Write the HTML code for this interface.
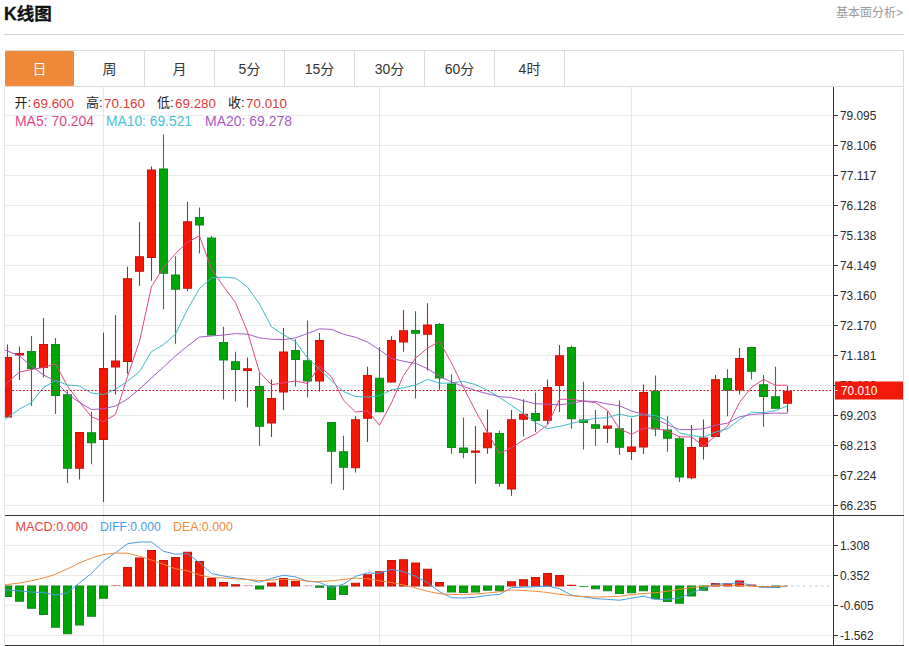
<!DOCTYPE html>
<html lang="zh-CN">
<head>
<meta charset="utf-8">
<title>K线图</title>
<style>
html,body{margin:0;padding:0;background:#fff;}
body{width:909px;height:646px;position:relative;overflow:hidden;font-family:"Liberation Sans","Noto Sans CJK SC",sans-serif;}
.title{-webkit-text-stroke:0.3px #111;position:absolute;left:4px;top:0.5px;font-size:17.6px;font-weight:bold;color:#111;line-height:26px;}
.more{position:absolute;right:6px;top:5px;font-size:12px;color:#999;line-height:17px;}
.hr{position:absolute;left:4px;top:34px;width:900px;height:1px;background:#cfcfcf;}
.tabs{position:absolute;left:5px;top:50px;width:898px;height:36px;border-top:1px solid #dcdcdc;box-sizing:border-box;}
.tab{position:absolute;top:0;width:70px;height:35px;box-sizing:border-box;border-right:1px solid #dcdcdc;text-align:center;font-size:14px;line-height:37px;color:#333;}
.tab.on{background:#f0883a;color:#fff;border-right:none;border-radius:1.5px;width:69px;}
</style>
</head>
<body>
<div class="title">K线图</div>
<div class="more">基本面分析&gt;</div>
<div class="hr"></div>
<div class="tabs">
<div class="tab on" style="left:0">日</div>
<div class="tab" style="left:70px">周</div>
<div class="tab" style="left:140px">月</div>
<div class="tab" style="left:210px">5分</div>
<div class="tab" style="left:280px">15分</div>
<div class="tab" style="left:350px">30分</div>
<div class="tab" style="left:420px">60分</div>
<div class="tab" style="left:490px">4时</div>
</div>
<svg width="909" height="646" viewBox="0 0 909 646" style="position:absolute;left:0;top:0">
<defs><clipPath id="cp"><rect x="5" y="87" width="828.5" height="559"/></clipPath></defs>
<g stroke="#e9e9e9" stroke-width="1" shape-rendering="crispEdges">
<line x1="5" y1="115.5" x2="833" y2="115.5"/>
<line x1="5" y1="145.5" x2="833" y2="145.5"/>
<line x1="5" y1="175.5" x2="833" y2="175.5"/>
<line x1="5" y1="205.5" x2="833" y2="205.5"/>
<line x1="5" y1="235.5" x2="833" y2="235.5"/>
<line x1="5" y1="265.5" x2="833" y2="265.5"/>
<line x1="5" y1="295.5" x2="833" y2="295.5"/>
<line x1="5" y1="325.5" x2="833" y2="325.5"/>
<line x1="5" y1="355.5" x2="833" y2="355.5"/>
<line x1="5" y1="385.5" x2="833" y2="385.5"/>
<line x1="5" y1="415.5" x2="833" y2="415.5"/>
<line x1="5" y1="445.5" x2="833" y2="445.5"/>
<line x1="5" y1="475.5" x2="833" y2="475.5"/>
<line x1="5" y1="505.5" x2="833" y2="505.5"/>
<line x1="5" y1="545.5" x2="833" y2="545.5"/>
<line x1="5" y1="575.5" x2="833" y2="575.5"/>
<line x1="5" y1="605.5" x2="833" y2="605.5"/>
<line x1="5" y1="635.5" x2="833" y2="635.5"/>
</g>
<g stroke="#e4e9ef" stroke-width="1" shape-rendering="crispEdges">
<line x1="103.5" y1="87" x2="103.5" y2="645"/>
<line x1="379.5" y1="87" x2="379.5" y2="645"/>
<line x1="631.5" y1="87" x2="631.5" y2="645"/>
</g>
<g stroke="#dcdcdc" stroke-width="1" shape-rendering="crispEdges">
<line x1="4.5" y1="86" x2="4.5" y2="646" stroke="#e1e6ec"/>
<line x1="903.5" y1="50" x2="903.5" y2="646"/>
<line x1="4" y1="86.5" x2="904" y2="86.5"/>
</g>
<line x1="5" y1="586" x2="833" y2="586" stroke="#aecbe3" stroke-width="1" stroke-dasharray="2.5,3.5"/>
<g clip-path="url(#cp)">
<line x1="7.5" y1="344.50" x2="7.5" y2="417.50" stroke="#a82a20" stroke-width="1.1"/>
<rect x="3.5" y="357.50" width="8" height="59.50" fill="#f51605" stroke="#c8140a" stroke-width="1"/>
<line x1="19.5" y1="346.50" x2="19.5" y2="380.00" stroke="#a82a20" stroke-width="1.1"/>
<rect x="15.5" y="353.50" width="8" height="1.50" fill="#f51605" stroke="#c8140a" stroke-width="1"/>
<line x1="31.5" y1="336.00" x2="31.5" y2="406.00" stroke="#23822d" stroke-width="1.1"/>
<rect x="27.5" y="351.50" width="8" height="17.00" fill="#00a605" stroke="#0c8a1c" stroke-width="1"/>
<line x1="43.5" y1="318.00" x2="43.5" y2="377.50" stroke="#a82a20" stroke-width="1.1"/>
<rect x="39.5" y="344.50" width="8" height="23.00" fill="#f51605" stroke="#c8140a" stroke-width="1"/>
<line x1="55.5" y1="338.00" x2="55.5" y2="414.00" stroke="#23822d" stroke-width="1.1"/>
<rect x="51.5" y="344.50" width="8" height="51.00" fill="#00a605" stroke="#0c8a1c" stroke-width="1"/>
<line x1="67.5" y1="391.25" x2="67.5" y2="483.00" stroke="#23822d" stroke-width="1.1"/>
<rect x="63.5" y="394.75" width="8" height="73.50" fill="#00a605" stroke="#0c8a1c" stroke-width="1"/>
<line x1="79.5" y1="432.00" x2="79.5" y2="479.50" stroke="#a82a20" stroke-width="1.1"/>
<rect x="75.5" y="432.50" width="8" height="35.75" fill="#f51605" stroke="#c8140a" stroke-width="1"/>
<line x1="91.5" y1="411.75" x2="91.5" y2="464.25" stroke="#23822d" stroke-width="1.1"/>
<rect x="87.5" y="432.75" width="8" height="10.00" fill="#00a605" stroke="#0c8a1c" stroke-width="1"/>
<line x1="103.5" y1="332.50" x2="103.5" y2="502.00" stroke="#a82a20" stroke-width="1.1"/>
<rect x="99.5" y="368.50" width="8" height="71.00" fill="#f51605" stroke="#c8140a" stroke-width="1"/>
<line x1="115.5" y1="315.00" x2="115.5" y2="394.50" stroke="#a82a20" stroke-width="1.1"/>
<rect x="111.5" y="361.00" width="8" height="6.00" fill="#f51605" stroke="#c8140a" stroke-width="1"/>
<line x1="127.5" y1="266.75" x2="127.5" y2="373.75" stroke="#a82a20" stroke-width="1.1"/>
<rect x="123.5" y="278.75" width="8" height="82.75" fill="#f51605" stroke="#c8140a" stroke-width="1"/>
<line x1="139.5" y1="222.00" x2="139.5" y2="285.75" stroke="#a82a20" stroke-width="1.1"/>
<rect x="135.5" y="256.75" width="8" height="14.50" fill="#f51605" stroke="#c8140a" stroke-width="1"/>
<line x1="151.5" y1="166.50" x2="151.5" y2="280.75" stroke="#a82a20" stroke-width="1.1"/>
<rect x="147.5" y="170.00" width="8" height="87.50" fill="#f51605" stroke="#c8140a" stroke-width="1"/>
<line x1="163.5" y1="134.50" x2="163.5" y2="309.25" stroke="#23822d" stroke-width="1.1"/>
<rect x="159.5" y="169.00" width="8" height="104.25" fill="#00a605" stroke="#0c8a1c" stroke-width="1"/>
<line x1="175.5" y1="256.25" x2="175.5" y2="343.75" stroke="#23822d" stroke-width="1.1"/>
<rect x="171.5" y="275.00" width="8" height="14.25" fill="#00a605" stroke="#0c8a1c" stroke-width="1"/>
<line x1="187.5" y1="201.75" x2="187.5" y2="291.25" stroke="#a82a20" stroke-width="1.1"/>
<rect x="183.5" y="221.75" width="8" height="66.50" fill="#f51605" stroke="#c8140a" stroke-width="1"/>
<line x1="199.5" y1="207.50" x2="199.5" y2="253.50" stroke="#23822d" stroke-width="1.1"/>
<rect x="195.5" y="217.50" width="8" height="7.50" fill="#00a605" stroke="#0c8a1c" stroke-width="1"/>
<line x1="211.5" y1="236.00" x2="211.5" y2="335.50" stroke="#23822d" stroke-width="1.1"/>
<rect x="207.5" y="238.00" width="8" height="97.00" fill="#00a605" stroke="#0c8a1c" stroke-width="1"/>
<line x1="223.5" y1="326.75" x2="223.5" y2="399.50" stroke="#23822d" stroke-width="1.1"/>
<rect x="219.5" y="342.50" width="8" height="17.50" fill="#00a605" stroke="#0c8a1c" stroke-width="1"/>
<line x1="235.5" y1="351.75" x2="235.5" y2="401.25" stroke="#23822d" stroke-width="1.1"/>
<rect x="231.5" y="361.75" width="8" height="7.75" fill="#00a605" stroke="#0c8a1c" stroke-width="1"/>
<line x1="247.5" y1="357.50" x2="247.5" y2="407.50" stroke="#a82a20" stroke-width="1.1"/>
<rect x="243.5" y="368.75" width="8" height="1.75" fill="#f51605" stroke="#c8140a" stroke-width="1"/>
<line x1="259.5" y1="372.50" x2="259.5" y2="445.75" stroke="#23822d" stroke-width="1.1"/>
<rect x="255.5" y="386.50" width="8" height="39.75" fill="#00a605" stroke="#0c8a1c" stroke-width="1"/>
<line x1="271.5" y1="379.50" x2="271.5" y2="437.00" stroke="#a82a20" stroke-width="1.1"/>
<rect x="267.5" y="398.50" width="8" height="24.50" fill="#f51605" stroke="#c8140a" stroke-width="1"/>
<line x1="283.5" y1="328.00" x2="283.5" y2="410.00" stroke="#a82a20" stroke-width="1.1"/>
<rect x="279.5" y="352.00" width="8" height="40.00" fill="#f51605" stroke="#c8140a" stroke-width="1"/>
<line x1="295.5" y1="339.25" x2="295.5" y2="386.50" stroke="#23822d" stroke-width="1.1"/>
<rect x="291.5" y="350.50" width="8" height="9.00" fill="#00a605" stroke="#0c8a1c" stroke-width="1"/>
<line x1="307.5" y1="320.50" x2="307.5" y2="397.50" stroke="#23822d" stroke-width="1.1"/>
<rect x="303.5" y="360.75" width="8" height="20.25" fill="#00a605" stroke="#0c8a1c" stroke-width="1"/>
<line x1="319.5" y1="333.00" x2="319.5" y2="391.50" stroke="#a82a20" stroke-width="1.1"/>
<rect x="315.5" y="340.50" width="8" height="40.50" fill="#f51605" stroke="#c8140a" stroke-width="1"/>
<line x1="331.5" y1="422.00" x2="331.5" y2="483.75" stroke="#23822d" stroke-width="1.1"/>
<rect x="327.5" y="422.50" width="8" height="28.75" fill="#00a605" stroke="#0c8a1c" stroke-width="1"/>
<line x1="343.5" y1="435.75" x2="343.5" y2="490.00" stroke="#23822d" stroke-width="1.1"/>
<rect x="339.5" y="451.75" width="8" height="15.50" fill="#00a605" stroke="#0c8a1c" stroke-width="1"/>
<line x1="355.5" y1="416.25" x2="355.5" y2="472.50" stroke="#a82a20" stroke-width="1.1"/>
<rect x="351.5" y="419.75" width="8" height="48.00" fill="#f51605" stroke="#c8140a" stroke-width="1"/>
<line x1="367.5" y1="366.75" x2="367.5" y2="442.00" stroke="#a82a20" stroke-width="1.1"/>
<rect x="363.5" y="375.50" width="8" height="42.75" fill="#f51605" stroke="#c8140a" stroke-width="1"/>
<line x1="379.5" y1="347.00" x2="379.5" y2="412.25" stroke="#23822d" stroke-width="1.1"/>
<rect x="375.5" y="378.25" width="8" height="33.50" fill="#00a605" stroke="#0c8a1c" stroke-width="1"/>
<line x1="391.5" y1="336.25" x2="391.5" y2="382.50" stroke="#a82a20" stroke-width="1.1"/>
<rect x="387.5" y="340.50" width="8" height="41.50" fill="#f51605" stroke="#c8140a" stroke-width="1"/>
<line x1="403.5" y1="310.00" x2="403.5" y2="351.75" stroke="#a82a20" stroke-width="1.1"/>
<rect x="399.5" y="330.75" width="8" height="11.25" fill="#f51605" stroke="#c8140a" stroke-width="1"/>
<line x1="415.5" y1="311.25" x2="415.5" y2="398.50" stroke="#23822d" stroke-width="1.1"/>
<rect x="411.5" y="330.50" width="8" height="2.75" fill="#00a605" stroke="#0c8a1c" stroke-width="1"/>
<line x1="427.5" y1="303.25" x2="427.5" y2="370.50" stroke="#a82a20" stroke-width="1.1"/>
<rect x="423.5" y="325.00" width="8" height="9.25" fill="#f51605" stroke="#c8140a" stroke-width="1"/>
<line x1="439.5" y1="323.00" x2="439.5" y2="390.50" stroke="#23822d" stroke-width="1.1"/>
<rect x="435.5" y="324.50" width="8" height="53.50" fill="#00a605" stroke="#0c8a1c" stroke-width="1"/>
<line x1="451.5" y1="374.25" x2="451.5" y2="453.75" stroke="#23822d" stroke-width="1.1"/>
<rect x="447.5" y="384.00" width="8" height="63.50" fill="#00a605" stroke="#0c8a1c" stroke-width="1"/>
<line x1="463.5" y1="417.50" x2="463.5" y2="458.25" stroke="#23822d" stroke-width="1.1"/>
<rect x="459.5" y="448.00" width="8" height="4.50" fill="#00a605" stroke="#0c8a1c" stroke-width="1"/>
<line x1="475.5" y1="426.00" x2="475.5" y2="483.75" stroke="#a82a20" stroke-width="1.1"/>
<rect x="471.5" y="451.00" width="8" height="1.25" fill="#f51605" stroke="#c8140a" stroke-width="1"/>
<line x1="487.5" y1="409.50" x2="487.5" y2="453.75" stroke="#a82a20" stroke-width="1.1"/>
<rect x="483.5" y="433.00" width="8" height="14.75" fill="#f51605" stroke="#c8140a" stroke-width="1"/>
<line x1="499.5" y1="430.75" x2="499.5" y2="486.75" stroke="#23822d" stroke-width="1.1"/>
<rect x="495.5" y="433.50" width="8" height="49.75" fill="#00a605" stroke="#0c8a1c" stroke-width="1"/>
<line x1="511.5" y1="410.00" x2="511.5" y2="495.75" stroke="#a82a20" stroke-width="1.1"/>
<rect x="507.5" y="419.75" width="8" height="69.25" fill="#f51605" stroke="#c8140a" stroke-width="1"/>
<line x1="523.5" y1="399.25" x2="523.5" y2="436.50" stroke="#a82a20" stroke-width="1.1"/>
<rect x="519.5" y="414.25" width="8" height="5.00" fill="#f51605" stroke="#c8140a" stroke-width="1"/>
<line x1="535.5" y1="392.50" x2="535.5" y2="432.00" stroke="#23822d" stroke-width="1.1"/>
<rect x="531.5" y="413.50" width="8" height="7.00" fill="#00a605" stroke="#0c8a1c" stroke-width="1"/>
<line x1="547.5" y1="379.50" x2="547.5" y2="424.25" stroke="#a82a20" stroke-width="1.1"/>
<rect x="543.5" y="387.50" width="8" height="32.75" fill="#f51605" stroke="#c8140a" stroke-width="1"/>
<line x1="559.5" y1="345.00" x2="559.5" y2="412.00" stroke="#a82a20" stroke-width="1.1"/>
<rect x="555.5" y="355.75" width="8" height="29.75" fill="#f51605" stroke="#c8140a" stroke-width="1"/>
<line x1="571.5" y1="345.75" x2="571.5" y2="428.75" stroke="#23822d" stroke-width="1.1"/>
<rect x="567.5" y="347.50" width="8" height="71.25" fill="#00a605" stroke="#0c8a1c" stroke-width="1"/>
<line x1="583.5" y1="381.75" x2="583.5" y2="449.50" stroke="#23822d" stroke-width="1.1"/>
<rect x="579.5" y="420.00" width="8" height="2.50" fill="#00a605" stroke="#0c8a1c" stroke-width="1"/>
<line x1="595.5" y1="410.00" x2="595.5" y2="445.75" stroke="#23822d" stroke-width="1.1"/>
<rect x="591.5" y="424.75" width="8" height="3.50" fill="#00a605" stroke="#0c8a1c" stroke-width="1"/>
<line x1="607.5" y1="411.25" x2="607.5" y2="443.00" stroke="#a82a20" stroke-width="1.1"/>
<rect x="603.5" y="426.00" width="8" height="2.25" fill="#f51605" stroke="#c8140a" stroke-width="1"/>
<line x1="619.5" y1="400.50" x2="619.5" y2="455.00" stroke="#23822d" stroke-width="1.1"/>
<rect x="615.5" y="428.75" width="8" height="18.50" fill="#00a605" stroke="#0c8a1c" stroke-width="1"/>
<line x1="631.5" y1="418.25" x2="631.5" y2="460.00" stroke="#a82a20" stroke-width="1.1"/>
<rect x="627.5" y="447.00" width="8" height="4.50" fill="#f51605" stroke="#c8140a" stroke-width="1"/>
<line x1="643.5" y1="384.50" x2="643.5" y2="454.00" stroke="#a82a20" stroke-width="1.1"/>
<rect x="639.5" y="392.50" width="8" height="54.50" fill="#f51605" stroke="#c8140a" stroke-width="1"/>
<line x1="655.5" y1="375.50" x2="655.5" y2="436.25" stroke="#23822d" stroke-width="1.1"/>
<rect x="651.5" y="391.25" width="8" height="37.75" fill="#00a605" stroke="#0c8a1c" stroke-width="1"/>
<line x1="667.5" y1="416.25" x2="667.5" y2="451.75" stroke="#23822d" stroke-width="1.1"/>
<rect x="663.5" y="430.00" width="8" height="8.25" fill="#00a605" stroke="#0c8a1c" stroke-width="1"/>
<line x1="679.5" y1="436.50" x2="679.5" y2="482.00" stroke="#23822d" stroke-width="1.1"/>
<rect x="675.5" y="438.75" width="8" height="38.25" fill="#00a605" stroke="#0c8a1c" stroke-width="1"/>
<line x1="691.5" y1="425.00" x2="691.5" y2="479.25" stroke="#a82a20" stroke-width="1.1"/>
<rect x="687.5" y="447.50" width="8" height="30.25" fill="#f51605" stroke="#c8140a" stroke-width="1"/>
<line x1="703.5" y1="419.50" x2="703.5" y2="459.50" stroke="#a82a20" stroke-width="1.1"/>
<rect x="699.5" y="438.00" width="8" height="8.25" fill="#f51605" stroke="#c8140a" stroke-width="1"/>
<line x1="715.5" y1="375.00" x2="715.5" y2="437.00" stroke="#a82a20" stroke-width="1.1"/>
<rect x="711.5" y="379.75" width="8" height="56.75" fill="#f51605" stroke="#c8140a" stroke-width="1"/>
<line x1="727.5" y1="369.25" x2="727.5" y2="416.25" stroke="#23822d" stroke-width="1.1"/>
<rect x="723.5" y="378.50" width="8" height="11.75" fill="#00a605" stroke="#0c8a1c" stroke-width="1"/>
<line x1="739.5" y1="348.00" x2="739.5" y2="394.50" stroke="#a82a20" stroke-width="1.1"/>
<rect x="735.5" y="358.50" width="8" height="31.50" fill="#f51605" stroke="#c8140a" stroke-width="1"/>
<line x1="751.5" y1="347.00" x2="751.5" y2="379.50" stroke="#23822d" stroke-width="1.1"/>
<rect x="747.5" y="347.50" width="8" height="23.75" fill="#00a605" stroke="#0c8a1c" stroke-width="1"/>
<line x1="763.5" y1="375.00" x2="763.5" y2="426.75" stroke="#23822d" stroke-width="1.1"/>
<rect x="759.5" y="384.75" width="8" height="11.75" fill="#00a605" stroke="#0c8a1c" stroke-width="1"/>
<line x1="775.5" y1="366.75" x2="775.5" y2="409.00" stroke="#23822d" stroke-width="1.1"/>
<rect x="771.5" y="396.75" width="8" height="11.50" fill="#00a605" stroke="#0c8a1c" stroke-width="1"/>
<line x1="787.5" y1="386.25" x2="787.5" y2="412.50" stroke="#a82a20" stroke-width="1.1"/>
<rect x="783.5" y="391.25" width="8" height="12.00" fill="#f51605" stroke="#c8140a" stroke-width="1"/>
<polyline points="-4.5,393.00 7.5,382.50 19.5,372.00 31.5,369.50 43.5,367.50 55.5,363.80 67.5,386.15 79.5,401.95 91.5,416.80 103.5,421.60 115.5,414.50 127.5,376.40 139.5,341.25 151.5,286.50 163.5,267.65 175.5,253.50 187.5,242.10 199.5,235.95 211.5,269.15 223.5,286.50 235.5,302.55 247.5,331.95 259.5,372.20 271.5,384.70 283.5,382.90 295.5,380.90 307.5,383.55 319.5,366.20 331.5,376.95 343.5,400.20 355.5,412.05 367.5,410.75 379.5,425.20 391.5,402.85 403.5,375.35 415.5,358.25 427.5,348.15 439.5,341.40 451.5,363.00 463.5,387.55 475.5,410.90 487.5,432.50 499.5,453.55 511.5,447.80 523.5,439.95 535.5,434.05 547.5,424.95 559.5,399.25 571.5,399.25 583.5,401.10 595.5,402.65 607.5,410.35 619.5,428.85 631.5,434.30 643.5,428.10 655.5,428.25 667.5,430.90 679.5,436.85 691.5,436.95 703.5,446.05 715.5,436.00 727.5,426.40 739.5,402.50 751.5,387.45 763.5,379.35 775.5,385.25 787.5,385.20" fill="none" stroke="#e2468a" stroke-width="1.0" stroke-linejoin="round"/>
<polyline points="-4.5,426.00 7.5,417.50 19.5,409.00 31.5,402.50 43.5,387.50 55.5,380.50 67.5,385.00 79.5,386.00 91.5,393.00 103.5,394.50 115.5,389.15 127.5,381.27 139.5,371.60 151.5,351.65 163.5,344.62 175.5,334.00 187.5,309.25 199.5,288.60 211.5,277.82 223.5,277.07 235.5,278.02 247.5,287.02 259.5,304.07 271.5,326.93 283.5,334.70 295.5,341.73 307.5,357.75 319.5,369.20 331.5,380.82 343.5,391.55 355.5,396.48 367.5,397.15 379.5,395.70 391.5,389.90 403.5,387.77 415.5,385.15 427.5,379.45 439.5,383.30 451.5,382.93 463.5,381.45 475.5,384.57 487.5,390.32 499.5,397.48 511.5,405.40 523.5,413.75 535.5,422.48 547.5,428.73 559.5,426.40 571.5,423.52 583.5,420.52 595.5,418.35 607.5,417.65 619.5,414.05 631.5,416.77 643.5,414.60 655.5,415.45 667.5,420.62 679.5,432.85 691.5,435.62 703.5,437.07 715.5,432.12 727.5,428.65 739.5,419.68 751.5,412.20 763.5,412.70 775.5,410.62 787.5,405.91" fill="none" stroke="#3dbcc8" stroke-width="1.0" stroke-linejoin="round"/>
<polyline points="-4.5,346.00 7.5,351.00 19.5,356.00 31.5,366.00 43.5,375.00 55.5,381.00 67.5,394.00 79.5,402.50 91.5,409.50 103.5,408.75 115.5,406.00 127.5,399.00 139.5,389.00 151.5,378.00 163.5,367.00 175.5,356.00 187.5,346.00 199.5,337.00 211.5,336.00 223.5,335.00 235.5,333.59 247.5,334.15 259.5,337.84 271.5,339.29 283.5,339.66 295.5,337.86 307.5,333.50 319.5,328.90 331.5,329.32 343.5,334.31 355.5,337.25 367.5,342.09 379.5,349.89 391.5,358.41 403.5,361.24 415.5,363.44 427.5,368.60 439.5,376.25 451.5,381.88 463.5,386.50 475.5,390.52 487.5,393.74 499.5,396.59 511.5,397.65 523.5,400.76 535.5,403.81 547.5,404.09 559.5,404.85 571.5,403.23 583.5,400.99 595.5,401.46 607.5,403.99 619.5,405.76 631.5,411.09 643.5,414.18 655.5,418.96 667.5,424.68 679.5,429.62 691.5,429.57 703.5,428.80 715.5,425.24 727.5,423.15 739.5,416.86 751.5,414.49 763.5,413.65 775.5,413.04 787.5,413.29" fill="none" stroke="#a55cc4" stroke-width="1.0" stroke-linejoin="round"/>
<rect x="3.5" y="586.00" width="8" height="10.50" fill="#00a605" stroke="#0c8a1c" stroke-width="1"/>
<rect x="15.5" y="586.00" width="8" height="15.25" fill="#00a605" stroke="#0c8a1c" stroke-width="1"/>
<rect x="27.5" y="586.00" width="8" height="22.25" fill="#00a605" stroke="#0c8a1c" stroke-width="1"/>
<rect x="39.5" y="586.00" width="8" height="28.50" fill="#00a605" stroke="#0c8a1c" stroke-width="1"/>
<rect x="51.5" y="586.00" width="8" height="41.25" fill="#00a605" stroke="#0c8a1c" stroke-width="1"/>
<rect x="63.5" y="586.00" width="8" height="47.75" fill="#00a605" stroke="#0c8a1c" stroke-width="1"/>
<rect x="75.5" y="586.00" width="8" height="39.00" fill="#00a605" stroke="#0c8a1c" stroke-width="1"/>
<rect x="87.5" y="586.00" width="8" height="30.25" fill="#00a605" stroke="#0c8a1c" stroke-width="1"/>
<rect x="99.5" y="586.00" width="8" height="12.25" fill="#00a605" stroke="#0c8a1c" stroke-width="1"/>
<rect x="111.0" y="585.50" width="9" height="0.50" fill="#f51605"/>
<rect x="123.5" y="567.50" width="8" height="18.50" fill="#f51605" stroke="#c8140a" stroke-width="1"/>
<rect x="135.5" y="558.00" width="8" height="28.00" fill="#f51605" stroke="#c8140a" stroke-width="1"/>
<rect x="147.5" y="550.50" width="8" height="35.50" fill="#f51605" stroke="#c8140a" stroke-width="1"/>
<rect x="159.5" y="560.50" width="8" height="25.50" fill="#f51605" stroke="#c8140a" stroke-width="1"/>
<rect x="171.5" y="557.50" width="8" height="28.50" fill="#f51605" stroke="#c8140a" stroke-width="1"/>
<rect x="183.5" y="552.25" width="8" height="33.75" fill="#f51605" stroke="#c8140a" stroke-width="1"/>
<rect x="195.5" y="561.50" width="8" height="24.50" fill="#f51605" stroke="#c8140a" stroke-width="1"/>
<rect x="207.5" y="578.50" width="8" height="7.50" fill="#f51605" stroke="#c8140a" stroke-width="1"/>
<rect x="219.5" y="582.50" width="8" height="3.50" fill="#f51605" stroke="#c8140a" stroke-width="1"/>
<rect x="231.5" y="584.75" width="8" height="1.25" fill="#f51605" stroke="#c8140a" stroke-width="1"/>
<rect x="243.0" y="585.70" width="9" height="0.30" fill="#f51605"/>
<rect x="255.5" y="586.00" width="8" height="3.00" fill="#00a605" stroke="#0c8a1c" stroke-width="1"/>
<rect x="267.5" y="583.00" width="8" height="3.00" fill="#f51605" stroke="#c8140a" stroke-width="1"/>
<rect x="279.5" y="578.50" width="8" height="7.50" fill="#f51605" stroke="#c8140a" stroke-width="1"/>
<rect x="291.5" y="581.25" width="8" height="4.75" fill="#f51605" stroke="#c8140a" stroke-width="1"/>
<rect x="303.0" y="585.70" width="9" height="0.30" fill="#f51605"/>
<rect x="315.5" y="586.00" width="8" height="1.25" fill="#00a605" stroke="#0c8a1c" stroke-width="1"/>
<rect x="327.5" y="586.00" width="8" height="13.50" fill="#00a605" stroke="#0c8a1c" stroke-width="1"/>
<rect x="339.5" y="586.00" width="8" height="8.50" fill="#00a605" stroke="#0c8a1c" stroke-width="1"/>
<rect x="351.5" y="583.25" width="8" height="2.75" fill="#f51605" stroke="#c8140a" stroke-width="1"/>
<rect x="363.5" y="574.75" width="8" height="11.25" fill="#f51605" stroke="#c8140a" stroke-width="1"/>
<rect x="375.5" y="571.75" width="8" height="14.25" fill="#f51605" stroke="#c8140a" stroke-width="1"/>
<rect x="387.5" y="560.50" width="8" height="25.50" fill="#f51605" stroke="#c8140a" stroke-width="1"/>
<rect x="399.5" y="559.75" width="8" height="26.25" fill="#f51605" stroke="#c8140a" stroke-width="1"/>
<rect x="411.5" y="563.00" width="8" height="23.00" fill="#f51605" stroke="#c8140a" stroke-width="1"/>
<rect x="423.5" y="569.25" width="8" height="16.75" fill="#f51605" stroke="#c8140a" stroke-width="1"/>
<rect x="435.5" y="582.50" width="8" height="3.50" fill="#f51605" stroke="#c8140a" stroke-width="1"/>
<rect x="447.5" y="586.00" width="8" height="6.00" fill="#00a605" stroke="#0c8a1c" stroke-width="1"/>
<rect x="459.5" y="586.00" width="8" height="6.50" fill="#00a605" stroke="#0c8a1c" stroke-width="1"/>
<rect x="471.5" y="586.00" width="8" height="6.00" fill="#00a605" stroke="#0c8a1c" stroke-width="1"/>
<rect x="483.5" y="586.00" width="8" height="4.25" fill="#00a605" stroke="#0c8a1c" stroke-width="1"/>
<rect x="495.5" y="586.00" width="8" height="4.75" fill="#00a605" stroke="#0c8a1c" stroke-width="1"/>
<rect x="507.5" y="581.75" width="8" height="4.25" fill="#f51605" stroke="#c8140a" stroke-width="1"/>
<rect x="519.5" y="579.75" width="8" height="6.25" fill="#f51605" stroke="#c8140a" stroke-width="1"/>
<rect x="531.5" y="577.50" width="8" height="8.50" fill="#f51605" stroke="#c8140a" stroke-width="1"/>
<rect x="543.5" y="573.50" width="8" height="12.50" fill="#f51605" stroke="#c8140a" stroke-width="1"/>
<rect x="555.5" y="575.50" width="8" height="10.50" fill="#f51605" stroke="#c8140a" stroke-width="1"/>
<rect x="567.0" y="584.75" width="9" height="1.25" fill="#f51605"/>
<rect x="579.0" y="586.00" width="9" height="0.75" fill="#00a605"/>
<rect x="591.5" y="586.00" width="8" height="2.75" fill="#00a605" stroke="#0c8a1c" stroke-width="1"/>
<rect x="603.5" y="586.00" width="8" height="4.75" fill="#00a605" stroke="#0c8a1c" stroke-width="1"/>
<rect x="615.5" y="586.00" width="8" height="7.50" fill="#00a605" stroke="#0c8a1c" stroke-width="1"/>
<rect x="627.5" y="586.00" width="8" height="6.75" fill="#00a605" stroke="#0c8a1c" stroke-width="1"/>
<rect x="639.5" y="586.00" width="8" height="4.75" fill="#00a605" stroke="#0c8a1c" stroke-width="1"/>
<rect x="651.5" y="586.00" width="8" height="12.75" fill="#00a605" stroke="#0c8a1c" stroke-width="1"/>
<rect x="663.5" y="586.00" width="8" height="15.50" fill="#00a605" stroke="#0c8a1c" stroke-width="1"/>
<rect x="675.5" y="586.00" width="8" height="17.25" fill="#00a605" stroke="#0c8a1c" stroke-width="1"/>
<rect x="687.5" y="586.00" width="8" height="10.00" fill="#00a605" stroke="#0c8a1c" stroke-width="1"/>
<rect x="699.5" y="586.00" width="8" height="4.25" fill="#00a605" stroke="#0c8a1c" stroke-width="1"/>
<rect x="711.5" y="583.50" width="8" height="2.50" fill="#f51605" stroke="#c8140a" stroke-width="1"/>
<rect x="723.5" y="583.75" width="8" height="2.25" fill="#f51605" stroke="#c8140a" stroke-width="1"/>
<rect x="735.5" y="581.00" width="8" height="5.00" fill="#f51605" stroke="#c8140a" stroke-width="1"/>
<rect x="747.0" y="584.50" width="9" height="1.50" fill="#f51605"/>
<rect x="759.0" y="586.00" width="9" height="1.50" fill="#00a605"/>
<rect x="771.5" y="586.00" width="8" height="1.50" fill="#00a605" stroke="#0c8a1c" stroke-width="1"/>
<polyline points="-4.5,589.12 7.5,590.00 19.5,590.88 31.5,592.12 43.5,592.50 55.5,595.12 67.5,592.88 79.5,582.75 91.5,573.38 103.5,560.88 115.5,552.75 127.5,543.75 139.5,542.00 151.5,542.00 163.5,551.25 175.5,554.25 187.5,553.62 199.5,562.50 211.5,573.50 223.5,576.00 235.5,577.88 247.5,579.35 259.5,582.25 271.5,578.25 283.5,575.25 295.5,576.88 307.5,581.10 319.5,582.38 331.5,587.75 343.5,584.00 355.5,576.38 367.5,572.88 379.5,573.38 391.5,569.50 403.5,571.62 415.5,576.25 427.5,582.62 439.5,591.75 451.5,597.75 463.5,598.00 475.5,597.25 487.5,595.38 499.5,594.38 511.5,587.62 523.5,587.12 535.5,586.75 547.5,586.00 559.5,588.75 571.5,595.12 583.5,596.88 595.5,598.62 607.5,599.38 619.5,600.25 631.5,598.12 643.5,596.12 655.5,599.38 667.5,599.25 679.5,598.12 691.5,592.75 703.5,588.62 715.5,584.00 727.5,583.88 739.5,582.50 751.5,585.50 763.5,587.50 775.5,587.50 787.5,586.00" fill="none" stroke="#4a9be6" stroke-width="1.0" stroke-linejoin="round"/>
<polyline points="-4.5,586.00 7.5,584.50 19.5,583.00 31.5,580.75 43.5,578.00 55.5,574.25 67.5,568.75 79.5,563.00 91.5,558.00 103.5,554.50 115.5,553.00 127.5,553.25 139.5,556.25 151.5,560.00 163.5,564.25 175.5,568.75 187.5,570.75 199.5,575.00 211.5,577.50 223.5,578.00 235.5,578.75 247.5,579.50 259.5,580.50 271.5,580.00 283.5,579.25 295.5,579.50 307.5,581.25 319.5,581.50 331.5,580.75 343.5,579.50 355.5,578.00 367.5,578.75 379.5,580.75 391.5,582.50 403.5,585.00 415.5,588.00 427.5,591.25 439.5,593.75 451.5,594.50 463.5,594.50 475.5,594.00 487.5,593.00 499.5,591.75 511.5,590.00 523.5,590.50 535.5,591.25 547.5,592.50 559.5,594.25 571.5,595.75 583.5,596.50 595.5,597.00 607.5,596.75 619.5,596.25 631.5,594.50 643.5,593.50 655.5,592.75 667.5,591.25 679.5,589.25 691.5,587.50 703.5,586.25 715.5,585.50 727.5,585.25 739.5,585.25 751.5,586.25 763.5,586.75 775.5,586.50 787.5,586.00" fill="none" stroke="#f08a3c" stroke-width="1.0" stroke-linejoin="round"/>
</g>
<line x1="5" y1="390.5" x2="833" y2="390.5" stroke="#c8141e" stroke-width="1" stroke-dasharray="1.8,1.8"/>
<g stroke="#333" stroke-width="1" shape-rendering="crispEdges">
<line x1="833.5" y1="87" x2="833.5" y2="646"/>
<line x1="5" y1="515.5" x2="904" y2="515.5"/>
<line x1="5" y1="645.5" x2="904" y2="645.5"/>
<line x1="834" y1="115.5" x2="838" y2="115.5"/>
<line x1="834" y1="145.5" x2="838" y2="145.5"/>
<line x1="834" y1="175.5" x2="838" y2="175.5"/>
<line x1="834" y1="205.5" x2="838" y2="205.5"/>
<line x1="834" y1="235.5" x2="838" y2="235.5"/>
<line x1="834" y1="265.5" x2="838" y2="265.5"/>
<line x1="834" y1="295.5" x2="838" y2="295.5"/>
<line x1="834" y1="325.5" x2="838" y2="325.5"/>
<line x1="834" y1="355.5" x2="838" y2="355.5"/>
<line x1="834" y1="385.5" x2="838" y2="385.5"/>
<line x1="834" y1="415.5" x2="838" y2="415.5"/>
<line x1="834" y1="445.5" x2="838" y2="445.5"/>
<line x1="834" y1="475.5" x2="838" y2="475.5"/>
<line x1="834" y1="505.5" x2="838" y2="505.5"/>
<line x1="834" y1="545.5" x2="838" y2="545.5"/>
<line x1="834" y1="575.5" x2="838" y2="575.5"/>
<line x1="834" y1="605.5" x2="838" y2="605.5"/>
<line x1="834" y1="635.5" x2="838" y2="635.5"/>
</g>
<g font-family="'Liberation Sans', sans-serif" font-size="13" fill="#2b2b2b">
<text x="839.9" y="119.7" textLength="36.4" lengthAdjust="spacingAndGlyphs">79.095</text>
<text x="839.9" y="149.7" textLength="36.4" lengthAdjust="spacingAndGlyphs">78.106</text>
<text x="839.9" y="179.7" textLength="36.4" lengthAdjust="spacingAndGlyphs">77.117</text>
<text x="839.9" y="209.7" textLength="36.4" lengthAdjust="spacingAndGlyphs">76.128</text>
<text x="839.9" y="239.7" textLength="36.4" lengthAdjust="spacingAndGlyphs">75.138</text>
<text x="839.9" y="269.7" textLength="36.4" lengthAdjust="spacingAndGlyphs">74.149</text>
<text x="839.9" y="299.7" textLength="36.4" lengthAdjust="spacingAndGlyphs">73.160</text>
<text x="839.9" y="329.7" textLength="36.4" lengthAdjust="spacingAndGlyphs">72.170</text>
<text x="839.9" y="359.7" textLength="36.4" lengthAdjust="spacingAndGlyphs">71.181</text>
<text x="839.9" y="389.7" textLength="36.4" lengthAdjust="spacingAndGlyphs">70.192</text>
<text x="839.9" y="419.7" textLength="36.4" lengthAdjust="spacingAndGlyphs">69.203</text>
<text x="839.9" y="449.7" textLength="36.4" lengthAdjust="spacingAndGlyphs">68.213</text>
<text x="839.9" y="479.7" textLength="36.4" lengthAdjust="spacingAndGlyphs">67.224</text>
<text x="839.9" y="509.7" textLength="36.4" lengthAdjust="spacingAndGlyphs">66.235</text>
<text x="839.9" y="549.7" textLength="29.8" lengthAdjust="spacingAndGlyphs">1.308</text>
<text x="839.9" y="579.7" textLength="29.8" lengthAdjust="spacingAndGlyphs">0.352</text>
<text x="839.9" y="609.7" textLength="33.7" lengthAdjust="spacingAndGlyphs">-0.605</text>
<text x="839.9" y="639.7" textLength="33.7" lengthAdjust="spacingAndGlyphs">-1.562</text>
</g>
<rect x="835" y="381.5" width="68" height="18" fill="#f0190a"/>
<line x1="835.5" y1="390.5" x2="837.5" y2="390.5" stroke="#fff" stroke-width="1"/>
<text x="841.0" y="394.8" font-family="'Liberation Sans', sans-serif" font-size="13" fill="#fff" textLength="36.4" lengthAdjust="spacingAndGlyphs">70.010</text>
<g font-family="'Liberation Sans', 'Noto Sans CJK SC', sans-serif" font-size="13.5">
<text x="14.5" y="107.3" fill="#222" font-size="13">开:</text><text x="33" y="107.5" fill="#e03a3a" textLength="41" lengthAdjust="spacingAndGlyphs">69.600</text>
<text x="86" y="107.3" fill="#222" font-size="13">高:</text><text x="104" y="107.5" fill="#e03a3a" textLength="41" lengthAdjust="spacingAndGlyphs">70.160</text>
<text x="157" y="107.3" fill="#222" font-size="13">低:</text><text x="175" y="107.5" fill="#e03a3a" textLength="41" lengthAdjust="spacingAndGlyphs">69.280</text>
<text x="228" y="107.3" fill="#222" font-size="13">收:</text><text x="246" y="107.5" fill="#e03a3a" textLength="41" lengthAdjust="spacingAndGlyphs">70.010</text>
</g>
<g font-family="'Liberation Sans', 'Noto Sans CJK SC', sans-serif" font-size="14">
<text x="15" y="126" fill="#e2468a" textLength="79" lengthAdjust="spacingAndGlyphs">MA5: 70.204</text>
<text x="106" y="126" fill="#45c3d3" textLength="86" lengthAdjust="spacingAndGlyphs">MA10: 69.521</text>
<text x="205" y="126" fill="#a55cc4" textLength="87" lengthAdjust="spacingAndGlyphs">MA20: 69.278</text>
</g>
<g font-family="'Liberation Sans', 'Noto Sans CJK SC', sans-serif" font-size="13">
<text x="15.5" y="531.3" fill="#e0453f" textLength="72.3" lengthAdjust="spacingAndGlyphs">MACD:0.000</text>
<text x="100" y="531.3" fill="#4a9be6" textLength="60.75" lengthAdjust="spacingAndGlyphs">DIFF:0.000</text>
<text x="173" y="531.3" fill="#f08a3c" textLength="59.8" lengthAdjust="spacingAndGlyphs">DEA:0.000</text>
</g>
</svg>
</body>
</html>
